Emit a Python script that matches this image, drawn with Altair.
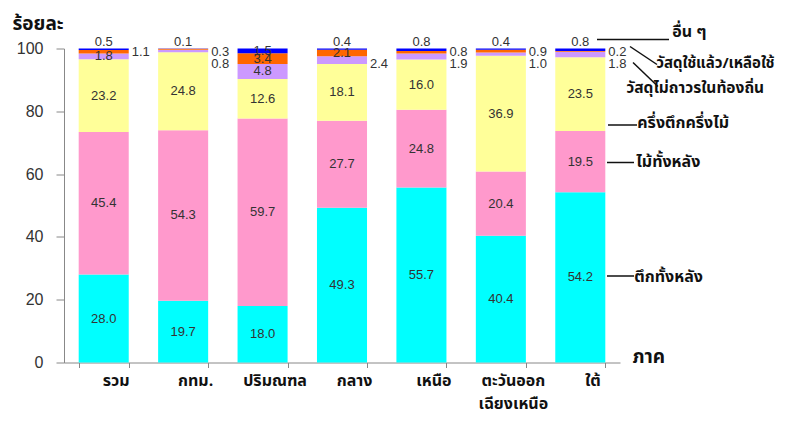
import altair as alt
import pandas as pd

# ---------------- data ----------------
regions = ["รวม", "กทม.", "ปริมณฑล", "กลาง", "เหนือ", "ตะวันออกเฉียงเหนือ", "ใต้"]
series = ["ตึกทั้งหลัง", "ไม้ทั้งหลัง", "ครึ่งตึกครึ่งไม้",
          "วัสดุไม่ถาวรในท้องถิ่น", "วัสดุใช้แล้ว/เหลือใช้", "อื่น ๆ"]

brick = [28.0, 19.7, 18.0, 49.3, 55.7, 40.4, 54.2]
wood = [45.4, 54.3, 59.7, 27.7, 24.8, 20.4, 19.5]
half = [23.2, 24.8, 12.6, 18.1, 16.0, 36.9, 23.5]
local = [1.8, 0.8, 4.8, 2.4, 1.9, 1.0, 1.8]
reused = [1.1, 0.3, 3.4, 2.1, 0.8, 0.9, 0.2]
other = [0.5, 0.1, 1.5, 0.4, 0.8, 0.4, 0.8]
values = [brick, wood, half, local, reused, other]

# where each value label sits: in = inside segment, top = above bar,
# r1 / r2 = right of bar (first / second line)
place_brick = ["in"] * 7
place_wood = ["in"] * 7
place_half = ["in"] * 7
place_local = ["in", "r2", "in", "r2", "r2", "r2", "r2"]
place_reused = ["r1", "r1", "in", "in", "r1", "r1", "r1"]
place_other = ["top", "top", "in", "top", "top", "top", "top"]
places = [place_brick, place_wood, place_half, place_local, place_reused, place_other]

colors = ["#00FFFF", "#FF99CC", "#FFFF99", "#CC99FF", "#FF6600", "#0000FF"]

rows = []
for ri, reg in enumerate(regions):
    base = 0.0
    total = sum(v[ri] for v in values)
    for si, s in enumerate(series):
        v = values[si][ri]
        rows.append({"region": reg, "series": s, "sidx": si, "value": v,
                     "y0": base, "y1": base + v, "mid": base + v / 2,
                     "total": total, "place": places[si][ri],
                     "label": f"{v:.1f}"})
        base += v
df = pd.DataFrame(rows)

# ---------------- style ----------------
THAI = "Tahoma, 'Noto Sans Thai', 'Noto Sans Thai UI', Garuda, Loma, 'Noto Sans', sans-serif"
NUM = "Liberation Sans, Arial, sans-serif"
W, H = 556, 314

xenc = alt.X("region:N", sort=regions,
             scale=alt.Scale(paddingInner=0.37, paddingOuter=0.185),
             axis=alt.Axis(title="ภาค", labelAngle=0, tickBand="extent",
                           tickSize=5, tickColor="#888", domainColor="#888",
                           labelFont=THAI, labelFontSize=16, labelFontWeight="bold",
                           labelColor="#111", labelPadding=13, labelOffset=12,
                           labelBaseline="middle", labelLineHeight=23,
                           labelExpr="datum.value == 'ตะวันออกเฉียงเหนือ' ? ['ตะวันออก', 'เฉียงเหนือ'] : datum.value",
                           titleFont=THAI, titleFontSize=19, titleFontWeight="bold",
                           titleColor="#111", titleX=568, titleY=-6,
                           titleAlign="left", titleBaseline="middle",
                           titleAnchor="start"))
yscale = alt.Scale(domain=[0, 100], nice=False)

bars = alt.Chart(df).mark_bar().encode(
    x=xenc,
    y=alt.Y("y0:Q", scale=yscale,
            axis=alt.Axis(title="ร้อยละ", values=[0, 20, 40, 60, 80, 100],
                          grid=False, tickSize=8, tickColor="#888",
                          domainColor="#888", labelFont=NUM, labelFontSize=16,
                          labelColor="#333", labelPadding=13,
                          titleFont=THAI, titleFontSize=19, titleFontWeight="bold",
                          titleColor="#111", titleAngle=0, titleX=-52, titleY=-25,
                          titleAlign="left", titleBaseline="middle")),
    y2="y1:Q",
    color=alt.Color("series:N", scale=alt.Scale(domain=series, range=colors),
                    legend=None),
)

def lab(place, ycol, **kw):
    return alt.Chart(df).transform_filter(alt.datum.place == place).mark_text(
        font=NUM, fontSize=13, color="#333", **kw
    ).encode(x=alt.X("region:N", sort=regions), y=alt.Y(f"{ycol}:Q", scale=yscale),
             text="label:N")

lab_in = lab("in", "mid", baseline="middle")
lab_top = lab("top", "total", baseline="middle", dy=-7)
lab_r1 = lab("r1", "total", baseline="middle", align="left", dx=28, dy=3)
lab_r2 = lab("r2", "total", baseline="middle", align="left", dx=28, dy=15)

# series names written beside the last bar, with leader lines
name_style = {  # series: (dx, dy, font size) from the segment middle of the last bar
    "อื่น ๆ": (92, -18, 16),
    "วัสดุใช้แล้ว/เหลือใช้": (76, 12, 15),
    "วัสดุไม่ถาวรในท้องถิ่น": (46, 34, 15.5),
    "ครึ่งตึกครึ่งไม้": (57, 29, 16),
    "ไม้ทั้งหลัง": (56, 0, 16),
    "ตึกทั้งหลัง": (54, 0, 16),
}
last = df[df.region == regions[-1]]
names = []
for s, (dx, dy, fs) in name_style.items():
    names.append(alt.Chart(last[last.series == s]).mark_text(
        font=THAI, fontSize=fs, fontWeight="bold", color="#111",
        align="left", baseline="middle", dx=dx, dy=dy
    ).encode(x=alt.X("region:N", sort=regions),
             y=alt.Y("mid:Q", scale=yscale), text="series:N"))

leaders = [  # x, y, x2, y2 in plot pixels
    (533, -9, 605, -9),
    (566, -2, 593, 16),
    (569, 14, 594, 38),
    (544, 76.5, 573, 76.5),
    (543, 114, 570, 114),
    (543, 227.5, 570, 227.5),
]
one = pd.DataFrame({"k": [0]})
lines = []
for x1, y1, x2, y2 in leaders:
    lines.append(alt.Chart(one).mark_rule(color="#111", strokeWidth=1.5).encode(
        x=alt.value(x1), y=alt.value(y1), x2=alt.value(x2), y2=alt.value(y2)))

chart = alt.layer(bars, lab_in, lab_top, lab_r1, lab_r2, *names, *lines).properties(
    width=W, height=H,
    autosize=alt.AutoSizeParams(type="none"),
    padding={"left": 56, "top": 40.5, "right": 160, "bottom": 54},
).configure_view(stroke=None)

chart.save("out.html", embed_options={"renderer": "svg", "actions": False})
